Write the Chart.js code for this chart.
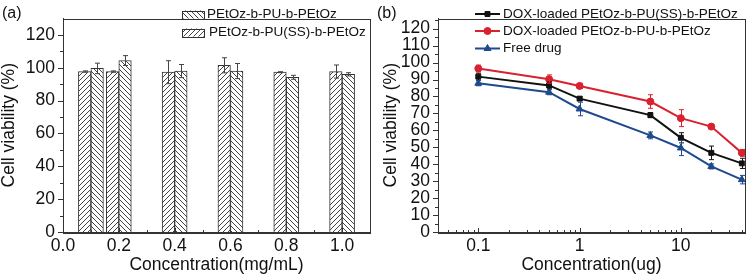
<!DOCTYPE html>
<html>
<head>
<meta charset="utf-8">
<script src="https://cdn.jsdelivr.net/npm/chart.js@4.4.0/dist/chart.umd.min.js"></script>
<style>
  html, body { margin: 0; padding: 0; background: #fff; }
  #wrap { position: relative; width: 750px; height: 278px; overflow: hidden; }
  .panel { position: absolute; top: 0; width: 375px; height: 278px; }
  .lab { position: absolute; top: 4px; font: 16px 'Liberation Sans', Arial, sans-serif; color: #111; }
</style>
</head>
<body>
<div id="wrap">
  <div class="panel" style="left:0"><canvas id="chartA"></canvas></div>
  <div class="panel" style="left:375px"><canvas id="chartB"></canvas></div>
  <div class="lab" style="left:2px">(a)</div>
  <div class="lab" style="left:377px">(b)</div>
</div>
<script>
// ---- panel (a) data ----
const concA = [0.1, 0.2, 0.4, 0.6, 0.8, 1.0];
const labelsA = ["PEtOz-b-PU-b-PEtOz", "PEtOz-b-PU(SS)-b-PEtOz"];
const puVals = [99.6, 104.4, 98.0, 98.0, 94.2, 96.0];
const puErr = [3.2, 3.0, 4.0, 4.6, 1.2, 1.0];
const puSSVals = [97.7, 97.7, 97.3, 101.5, 97.3, 97.7];
const puSSErr = [0.4, 0.4, 7.0, 4.6, 0.3, 4.0];
const xTicksA = [0, 0.2, 0.4, 0.6, 0.8, 1.0];
const yTicksA = [0, 20, 40, 60, 80, 100, 120];

// ---- panel (b) data ----
const concB = [0.1, 0.5, 1, 5, 10, 20, 40];
const labelsB = ["DOX-loaded PEtOz-b-PU(SS)-b-PEtOz", "DOX-loaded PEtOz-b-PU-b-PEtOz", "Free drug"];
const doxSS = [91.7, 86.5, 78.7, 69.0, 55.6, 46.7, 40.5];
const doxSSErr = [2.0, 2.0, 1.0, 1.5, 3.0, 4.0, 3.0];
const doxPU = [96.5, 90.2, 86.2, 77.0, 67.2, 62.2, 46.7];
const doxPUErr = [2.0, 2.5, 1.5, 4.0, 5.0, 1.0, 2.0];
const freeDrug = [87.8, 82.5, 72.6, 57.0, 49.6, 38.7, 30.9];
const freeDrugErr = [1.5, 1.5, 4.0, 2.0, 4.5, 1.5, 2.5];
const xTicksB = [0.1, 1, 10];
const yTicksB = [0, 10, 20, 30, 40, 50, 60, 70, 80, 90, 100, 110, 120];

Chart.defaults.font.family = "'Liberation Sans', Arial, sans-serif";
Chart.defaults.color = '#111';

function hatch(dir) {
  const c = document.createElement('canvas');
  c.width = 5; c.height = 5;
  const g = c.getContext('2d');
  g.fillStyle = '#fff';
  g.fillRect(0, 0, 5, 5);
  g.strokeStyle = '#444';
  g.lineWidth = 1;
  g.beginPath();
  if (dir === '/') {
    g.moveTo(-1, 6); g.lineTo(6, -1);
    g.moveTo(-1, 1); g.lineTo(1, -1);
    g.moveTo(4, 6); g.lineTo(6, 4);
  } else {
    g.moveTo(-1, -1); g.lineTo(6, 6);
    g.moveTo(4, -1); g.lineTo(6, 1);
    g.moveTo(-1, 4); g.lineTo(1, 6);
  }
  g.stroke();
  return g.createPattern(c, 'repeat');
}

// box round the plot
const frame = {
  id: 'frame',
  afterDraw(chart) {
    const { ctx, chartArea: a } = chart;
    ctx.save();
    ctx.strokeStyle = '#333';
    ctx.lineWidth = 1;
    ctx.strokeRect(Math.round(a.left) + 0.5, Math.round(a.top) + 0.5, Math.round(a.right - a.left), Math.round(a.bottom - a.top));
    ctx.restore();
  }
};

// major + minor tick marks (y outward, x inward)
function axisDeco(cfg) {
  return {
    id: 'axisDeco',
    afterDraw(chart) {
      const { ctx, chartArea: a, scales } = chart;
      ctx.save();
      ctx.strokeStyle = '#333';
      ctx.lineWidth = 1;
      ctx.beginPath();
      const yl = (vals, len) => vals.forEach(v => {
        const y = Math.round(scales.y.getPixelForValue(v)) + 0.5;
        ctx.moveTo(a.left, y); ctx.lineTo(a.left - len, y);
      });
      const xl = (vals, len) => vals.forEach(v => {
        const x = Math.round(scales.x.getPixelForValue(v)) + 0.5;
        ctx.moveTo(x, a.bottom); ctx.lineTo(x, a.bottom - len);
      });
      yl(cfg.yMajor, 5); yl(cfg.yMinor, 3);
      xl(cfg.xMajor, 4); xl(cfg.xMinor, 2);
      ctx.stroke();
      ctx.restore();
    }
  };
}

const errorBars = {
  id: 'errorBars',
  afterDatasetsDraw(chart) {
    const { ctx, scales } = chart;
    ctx.save();
    chart.data.datasets.forEach((ds, di) => {
      const meta = chart.getDatasetMeta(di);
      ctx.strokeStyle = ds.errColor || ds.borderColor;
      ctx.lineWidth = 1;
      ctx.beginPath();
      meta.data.forEach((el, i) => {
        const v = ds.data[i].y, e = ds.errors[i];
        const x = Math.round(el.x) + 0.5;
        const y1 = scales.y.getPixelForValue(v + e), y2 = scales.y.getPixelForValue(v - e);
        ctx.moveTo(x, y1); ctx.lineTo(x, y2);
        ctx.moveTo(x - 2.5, y1); ctx.lineTo(x + 2.5, y1);
        ctx.moveTo(x - 2.5, y2); ctx.lineTo(x + 2.5, y2);
      });
      ctx.stroke();
    });
    ctx.restore();
  }
};

function legendPlugin(drawItem, rows, textX) {
  return {
    id: 'ownLegend',
    afterDraw(chart) {
      const { ctx } = chart;
      ctx.save();
      ctx.font = "13.5px 'Liberation Sans', Arial, sans-serif";
      ctx.textBaseline = 'middle';
      rows.forEach(r => {
        drawItem(ctx, r.ds, r.y);
        ctx.fillStyle = '#111';
        ctx.fillText(r.ds.label, textX + (r.dx || 0), r.y);
      });
      ctx.restore();
    }
  };
}

function baseScales(o) {
  return {
    grid: { display: false, drawTicks: false },
    border: { display: true, color: '#333' },
    ...o
  };
}

const TICK_FONT = { size: 17.5 };
const TITLE_FONT = { size: 17.5 };

// ---------- chart (a) ----------
const ctxA = document.getElementById('chartA').getContext('2d');
const dsPuSS = {
  label: labelsA[1],
  data: concA.map((x, i) => ({ x, y: puSSVals[i] })),
  errors: puSSErr,
  backgroundColor: hatch('/'),
  borderColor: '#333',
  errColor: '#444',
  borderWidth: 1,
  barThickness: 12.5
};
const dsPu = {
  label: labelsA[0],
  data: concA.map((x, i) => ({ x, y: puVals[i] })),
  errors: puErr,
  backgroundColor: hatch('\\'),
  borderColor: '#333',
  errColor: '#444',
  borderWidth: 1,
  barThickness: 12.5
};
const minorA = [];
for (let v = 0.1; v < 1.1; v += 0.2) minorA.push(v);

new Chart(ctxA, {
  type: 'bar',
  data: { datasets: [dsPuSS, dsPu] },
  options: {
    responsive: true, maintainAspectRatio: false, animation: false,
    layout: { padding: { top: 3, right: 5, left: 0, bottom: 0 } },
    plugins: { legend: { display: false }, tooltip: { enabled: false } },
    scales: {
      x: baseScales({
        type: 'linear', min: 0, max: 1.1, offset: false,
        ticks: { padding: 4, font: TICK_FONT, autoSkip: false, maxRotation: 0, callback: v => Number(v).toFixed(1) },
        afterBuildTicks: s => { s.ticks = xTicksA.map(v => ({ value: v })); },
        afterFit: s => { s.height = 46; },
        title: { display: true, text: 'Concentration(mg/mL)', font: TITLE_FONT, padding: { top: 0, bottom: 2 } }
      }),
      y: baseScales({
        min: 0, max: 130,
        ticks: { padding: 8, font: TICK_FONT, autoSkip: false },
        afterBuildTicks: s => { s.ticks = yTicksA.map(v => ({ value: v })); },
        afterFit: s => { s.width = 63; },
        title: { display: true, text: 'Cell viability (%)', font: TITLE_FONT, padding: { top: -1, bottom: 0 } }
      })
    }
  },
  plugins: [
    frame,
    axisDeco({ yMajor: yTicksA, yMinor: [10, 30, 50, 70, 90, 110], xMajor: xTicksA, xMinor: minorA }),
    errorBars,
    legendPlugin((ctx, ds, y) => {
      ctx.fillStyle = ds.backgroundColor;
      ctx.fillRect(182, y - 4, 22, 8);
      ctx.strokeStyle = '#333';
      ctx.lineWidth = 1;
      ctx.strokeRect(182.5, Math.round(y - 4) + 0.5, 22, 8);
    }, [{ ds: dsPu, y: 14.5 }, { ds: dsPuSS, y: 32.5, dx: 2 }], 207)
  ]
});

// ---------- chart (b) ----------
const ctxB = document.getElementById('chartB').getContext('2d');
function lineDs(label, vals, errs, color, style, r) {
  return {
    label, data: concB.map((x, i) => ({ x, y: vals[i] })), errors: errs,
    borderColor: color, backgroundColor: color, borderWidth: 2,
    pointStyle: style, pointRadius: r, pointBorderWidth: 1, tension: 0
  };
}
const dsB = [
  lineDs(labelsB[0], doxSS, doxSSErr, '#111111', 'rect', 3.5),
  lineDs(labelsB[1], doxPU, doxPUErr, '#d9222f', 'circle', 3.5),
  lineDs(labelsB[2], freeDrug, freeDrugErr, '#1f4a8e', 'triangle', 4)
];
const minorB = [];
[0.01, 0.1, 1, 10].forEach(d => { for (let k = 2; k <= 9; k++) minorB.push(d * k); });

new Chart(ctxB, {
  type: 'line',
  data: { datasets: dsB },
  options: {
    responsive: true, maintainAspectRatio: false, animation: false,
    layout: { padding: { top: 3, right: 5, left: 0, bottom: 0 } },
    plugins: { legend: { display: false }, tooltip: { enabled: false } },
    scales: {
      x: baseScales({
        type: 'logarithmic', min: 0.04, max: 43,
        ticks: { padding: 4, font: TICK_FONT, autoSkip: false, maxRotation: 0, callback: v => String(v) },
        afterBuildTicks: s => { s.ticks = xTicksB.map(v => ({ value: v })); },
        afterFit: s => { s.height = 46; },
        title: { display: true, text: 'Concentration(ug)', font: TITLE_FONT, padding: { top: 0, bottom: 2 } }
      }),
      y: baseScales({
        min: 0, max: 126,
        ticks: { padding: 8, font: TICK_FONT, autoSkip: false },
        afterBuildTicks: s => { s.ticks = yTicksB.map(v => ({ value: v })); },
        afterFit: s => { s.width = 63; },
        title: { display: true, text: 'Cell viability (%)', font: TITLE_FONT, padding: { top: 6, bottom: 0 } }
      })
    }
  },
  plugins: [
    frame,
    axisDeco({ yMajor: yTicksB, yMinor: [5, 15, 25, 35, 45, 55, 65, 75, 85, 95, 105, 115, 125], xMajor: xTicksB, xMinor: minorB.filter(v => v > 0.04 && v < 43) }),
    errorBars,
    legendPlugin((ctx, ds, y) => {
      ctx.strokeStyle = ds.borderColor;
      ctx.fillStyle = ds.backgroundColor;
      ctx.lineWidth = 2;
      ctx.beginPath(); ctx.moveTo(100, y); ctx.lineTo(125, y); ctx.stroke();
      ctx.lineWidth = 1;
      Chart.helpers.drawPoint(ctx, { pointStyle: ds.pointStyle, radius: ds.pointRadius, borderWidth: 1, rotation: 0 }, 112.5, y);
    }, [{ ds: dsB[0], y: 14 }, { ds: dsB[1], y: 31 }, { ds: dsB[2], y: 48.5 }], 128)
  ]
});
</script>
</body>
</html>
